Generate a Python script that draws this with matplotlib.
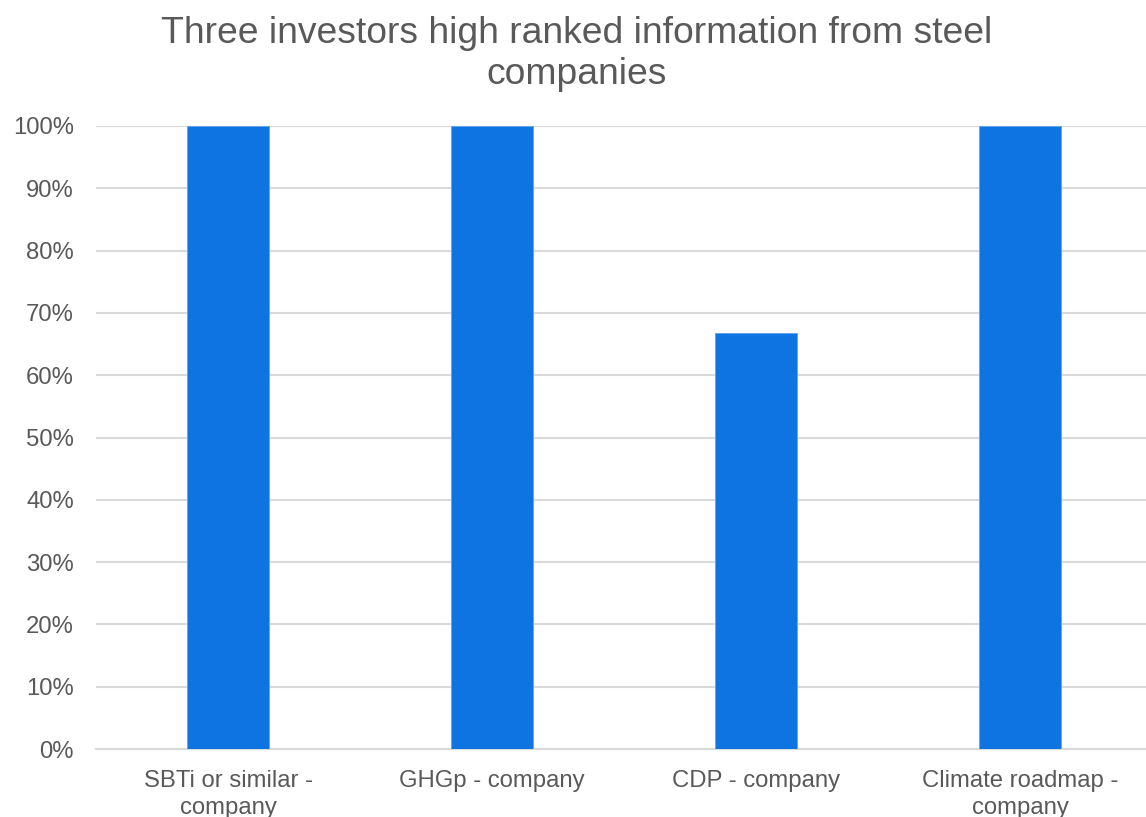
import matplotlib.pyplot as plt
from matplotlib.ticker import PercentFormatter

categories = ["SBTi or similar -\ncompany", "GHGp - company", "CDP - company", "Climate roadmap -\ncompany"]
shares = [1.0, 1.0, 0.667, 1.0]
y_ticks = [0.0, 0.1, 0.2, 0.3, 0.4, 0.5, 0.6, 0.7, 0.8, 0.9, 1.0]

plt.rcParams["font.family"] = ["Liberation Sans", "DejaVu Sans"]
text_color = "#595959"
grid_color = "#D9D9D9"

fig = plt.figure(figsize=(11.46, 8.17), dpi=100)
ax = fig.add_axes([96 / 1146, 1 - 749 / 817, 1056 / 1146, (749 - 126) / 817])

x = range(len(categories))
ax.bar(x, shares, width=0.31, color="#0E74E1", edgecolor="#5FA3EE", linewidth=0.6, zorder=3)

ax.set_xlim(-0.5, len(categories) - 0.5)
ax.set_ylim(0, 1.0)
ax.set_yticks(y_ticks)
ax.yaxis.set_major_formatter(PercentFormatter(1.0, decimals=0))
ax.set_xticks(list(x))
ax.set_xticklabels(categories, linespacing=1.3)

ax.tick_params(axis="y", length=0, pad=16, labelsize=17.2, labelcolor=text_color)
ax.tick_params(axis="x", length=0, pad=15, labelsize=17.2, labelcolor=text_color)
ax.grid(True, axis="y", color=grid_color, linewidth=1.5, zorder=0)
ax.set_axisbelow(True)
for side in ("top", "right", "left"):
    ax.spines[side].set_visible(False)
ax.spines["bottom"].set_color(grid_color)
ax.spines["bottom"].set_linewidth(1.5)

fig.text(0.503, 1 - 54 / 817, "Three investors high ranked information from steel\ncompanies",
         ha="center", va="center", fontsize=26.8, color=text_color, linespacing=1.25)

fig.savefig("out.png", dpi=100)
